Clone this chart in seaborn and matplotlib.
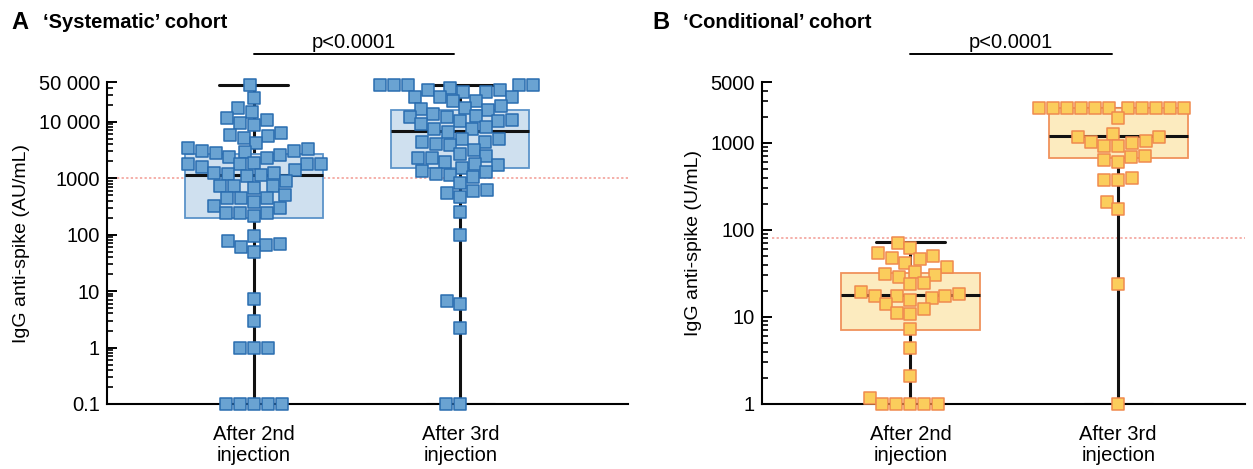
import pandas as pd
import seaborn as sns
import matplotlib.pyplot as plt
from matplotlib.ticker import LogLocator, NullFormatter

# Categories
groups = ["After 2nd\ninjection", "After 3rd\ninjection"]

# 'Systematic' cohort (AU/mL)
sys_after2 = [44000, 26000, 17500, 14900, 11400, 10500, 9300, 8700, 6400, 5700, 5500, 5150, 4100,
              3450, 3300, 3000, 3000, 2900, 2820, 2570, 2400, 2300,
              1870, 1740, 1740, 1740, 1740, 1580, 1380, 1240, 1240, 1180, 1120, 1070, 890,
              720, 720, 720, 670, 500, 445, 445, 445, 370, 320, 300, 245, 245, 245, 210,
              93, 76, 69, 65, 59, 49, 7.2, 2.9, 1, 1, 1, 0.1, 0.1, 0.1, 0.1, 0.1]
sys_after3 = [43600, 43600, 43600, 43600, 43600, 40000, 36000, 36000, 34000, 34000,
              27000, 27000, 27000, 23400, 23400, 19000, 17100, 16600, 16200, 13500,
              12300, 12000, 11800, 10500, 10200, 10200, 8900, 8100, 7300, 7300, 6600,
              4900, 4900, 4300, 4300, 3950, 3850, 3200, 2680, 2470, 2290, 2230, 1930,
              1780, 1700, 1510, 1360, 1270, 1180, 1150, 1030, 810, 620, 580, 540, 455,
              250, 100, 6.7, 5.9, 2.2, 0.1, 0.1]

# 'Conditional' cohort (U/mL)
cond_after2 = [71.5, 61.6, 53.7, 50.6, 48, 46.4, 42, 37.2, 33.2, 31.2, 30.4, 28.6, 24.4, 23.8,
               19.5, 18.4, 17.4, 17.4, 17.4, 16.4, 15.7, 14.0, 12.3, 11.2, 10.8, 7.3, 4.4, 2.1,
               1.16, 1, 1, 1, 1, 1]
cond_after3 = [2500, 2500, 2500, 2500, 2500, 2500, 2500, 2500, 2500, 2500, 2500,
               1920, 1260, 1180, 1180, 1050, 1035, 1000, 930, 910, 710, 695, 635, 610,
               400, 376, 376, 211, 174, 23.8, 1.0]

# box summaries: min, q1, median, q3, max
sys_box2 = [0.1, 200, 1120, 2680, 44000]
sys_box3 = [0.1, 1480, 6800, 15900, 43600]
cond_box2 = [1, 7.1, 17.8, 31.8, 72]
cond_box3 = [1, 665, 1200, 2500, 2500]

sys_ticks = [0.1, 1, 10, 100, 1000, 10000, 50000]
sys_ticklabels = ["0.1", "1", "10", "100", "1000", "10 000", "50 000"]
cond_ticks = [1, 10, 100, 1000, 5000]
cond_ticklabels = ["1", "10", "100", "1000", "5000"]

sys_threshold = 1000
cond_threshold = 80

sns.set_style("ticks")
plt.rcParams['font.family'] = ['Liberation Sans', 'DejaVu Sans']
plt.rcParams['text.color'] = 'black'
plt.rcParams['axes.labelcolor'] = 'black'
plt.rcParams['xtick.color'] = 'black'
plt.rcParams['ytick.color'] = 'black'

fig = plt.figure(figsize=(12.53, 4.69), dpi=100)
axA = fig.add_axes([0.0854, 0.1386, 0.4156, 0.6864])
axB = fig.add_axes([0.6081, 0.1386, 0.3855, 0.6864])

panels = [
    (axA, sys_after2, sys_after3, sys_box2, sys_box3, "#6aa3d2", "#2a6db0", "#cfe0ef", "#5b93c9",
     sys_ticks, sys_ticklabels, (0.1, 50000), (-0.71, 1.81), sys_threshold, "IgG anti-spike (AU/mL)"),
    (axB, cond_after2, cond_after3, cond_box2, cond_box3, "#fbcd5c", "#f08a4e", "#fcebbf", "#f0925c",
     cond_ticks, cond_ticklabels, (1, 5000), (-0.715, 1.61), cond_threshold, "IgG anti-spike (U/mL)"),
]

for (ax, d2, d3, b2, b3, face, edge, boxfill, boxedge,
     ticks, ticklabels, ylim, xlim, thr, ylabel) in panels:
    ax.set_yscale('log')
    df = pd.DataFrame({
        'group': [groups[0]] * len(d2) + [groups[1]] * len(d3),
        'value': d2 + d3,
    })

    stats = []
    for b in (b2, b3):
        stats.append(dict(whislo=b[0], q1=b[1], med=b[2], q3=b[3], whishi=b[4], fliers=[]))
    ax.bxp(stats, positions=[0, 1], widths=0.667, patch_artist=True, manage_ticks=False,
           boxprops=dict(facecolor=boxfill, edgecolor=boxedge, linewidth=1.3, zorder=1.5),
           medianprops=dict(color='#111111', linewidth=2.2, zorder=1.6),
           whiskerprops=dict(color='#111111', linewidth=2.2, zorder=1.4),
           capprops=dict(color='#111111', linewidth=2.2, zorder=1.4))

    ax.axhline(thr, xmin=0.02, color='#f29a92', linestyle=(0, (1.5, 1.5)), linewidth=1.1, zorder=1)

    sns.swarmplot(data=df, x='group', y='value', order=groups, ax=ax, marker='s',
                  size=8.5, color=face, edgecolor=edge, linewidth=1.1,
                  clip_on=False, zorder=3, warn_thresh=1)

    ax.set_ylim(*ylim)
    ax.set_xlim(*xlim)
    ax.set_yticks(ticks)
    ax.set_yticklabels(ticklabels, fontsize=14.5)
    ax.yaxis.set_minor_locator(LogLocator(base=10, subs=range(2, 10), numticks=20))
    ax.yaxis.set_minor_formatter(NullFormatter())
    ax.set_xticks([0, 1])
    ax.set_xticklabels(groups, fontsize=14.5, linespacing=1.15)
    ax.tick_params(axis='x', length=0, pad=15)
    ax.tick_params(axis='y', which='major', direction='in', length=7, width=1.4,
                   color='black', pad=5)
    ax.tick_params(axis='y', which='minor', direction='in', length=4.3, width=1.2, color='black')
    ax.set_xlabel('')
    ax.set_ylabel(ylabel, fontsize=14, labelpad=6)
    for side in ('top', 'right'):
        ax.spines[side].set_visible(False)
    for side in ('left', 'bottom'):
        ax.spines[side].set_linewidth(1.5)
        ax.spines[side].set_color('black')

    # significance bar
    tr = ax.get_xaxis_transform()
    ax.plot([0, 0.97], [1.087, 1.087], transform=tr, color='black', linewidth=1.4, clip_on=False)
    ax.text(0.485, 1.106, "p<0.0001", transform=tr, ha='center', va='baseline', fontsize=14.5)

fig.text(0.009, 0.953, "A", fontsize=17, fontweight='bold', va='center')
fig.text(0.034, 0.953, "\u2018Systematic\u2019 cohort", fontsize=14.5, fontweight='bold', va='center')
fig.text(0.5205, 0.953, "B", fontsize=17, fontweight='bold', va='center')
fig.text(0.545, 0.953, "\u2018Conditional\u2019 cohort", fontsize=14.5, fontweight='bold', va='center')

plt.savefig("out.png", dpi=100)
